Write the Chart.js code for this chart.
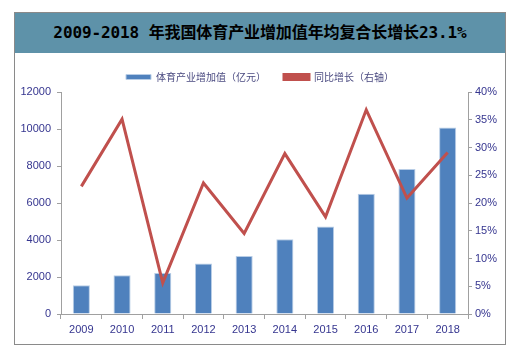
<!DOCTYPE html>
<html lang="zh">
<head>
<meta charset="UTF-8" />
<title>体育产业增加值</title>
<script src="https://cdn.jsdelivr.net/npm/chart.js"></script>
<style>
  body { margin: 0; background: #fff; }
  .frame {
    position: absolute; left: 14px; top: 12px; width: 490px; height: 331px;
    border: 1px solid #8a8a8a; background: #fff;
  }
  .title {
    height: 40px; background: #5e92a9; color: #000;
    font: bold 16px "DejaVu Sans Mono", "Noto Sans CJK SC", monospace;
    line-height: 40px; text-align: center; letter-spacing: -0.1px;
  }
  .box { position: absolute; left: 0; top: 41px; width: 490px; height: 290px; }
</style>
</head>
<body>
<div class="frame">
  <div class="title">2009-2018 年我国体育产业增加值年均复合长增长23.1%</div>
  <div class="box"><canvas id="myChart"></canvas></div>
</div>
<script>
const years = ["2009", "2010", "2011", "2012", "2013", "2014", "2015", "2016", "2017", "2018"];
const valueAdded = [1560, 2090, 2220, 2730, 3140, 4040, 4735, 6495, 7840, 10080];
const growth = [23.0, 35.1, 5.6, 23.6, 14.5, 28.9, 17.5, 36.8, 20.9, 29.1];
const leftTicks = [0, 2000, 4000, 6000, 8000, 10000, 12000];
const rightTicks = [0, 5, 10, 15, 20, 25, 30, 35, 40];

const tickColor = "#35358f";
const tickFont = { family: "'Liberation Sans Narrow', 'Liberation Sans', Arial", size: 11 };

const data = {
  labels: years,
  datasets: [
    {
      type: "bar",
      label: "体育产业增加值（亿元）",
      data: valueAdded,
      backgroundColor: "#4f81bd",
      borderColor: "#b8cde6",
      borderWidth: 1,
      categoryPercentage: 1,
      barPercentage: 0.42,
      yAxisID: "y",
      order: 2,
    },
    {
      type: "line",
      label: "同比增长（右轴）",
      data: growth,
      borderColor: "#c0504d",
      backgroundColor: "#c0504d",
      borderWidth: 3,
      pointRadius: 0,
      tension: 0,
      yAxisID: "y1",
      order: 1,
    },
  ],
};

const config = {
  data: data,
  options: {
    responsive: true,
    maintainAspectRatio: false,
    animation: false,
    layout: { padding: { top: 0, right: 0, bottom: 0, left: 0 } },
    plugins: {
      legend: {
        position: "top",
        labels: {
          boxWidth: 25,
          boxHeight: 5,
          padding: 18,
          color: "#4a4a80",
          font: { family: "'Noto Sans CJK SC'", size: 10 },
          sort: (a, b) => a.datasetIndex - b.datasetIndex,
        },
      },
      tooltip: { enabled: false },
    },
    scales: {
      x: {
        grid: { drawOnChartArea: false, drawTicks: true, tickLength: 5, color: "#a0a0a0", offset: true },
        border: { color: "#a0a0a0" },
        ticks: { color: tickColor, font: tickFont, padding: 4 },
        afterFit: (s) => { s.height = 30; },
      },
      y: {
        position: "left",
        min: 0,
        max: 12000,
        afterBuildTicks: (s) => { s.ticks = leftTicks.map((v) => ({ value: v })); },
        grid: { drawOnChartArea: false, drawTicks: true, tickLength: 4, color: "#a0a0a0" },
        border: { color: "#a0a0a0" },
        ticks: { color: tickColor, font: tickFont, padding: 6, callback: (v) => String(v) },
        afterFit: (s) => { s.width = 46; },
      },
      y1: {
        position: "right",
        min: 0,
        max: 40,
        afterBuildTicks: (s) => { s.ticks = rightTicks.map((v) => ({ value: v })); },
        grid: { drawOnChartArea: false, drawTicks: true, tickLength: 4, color: "#a0a0a0" },
        border: { color: "#a0a0a0" },
        ticks: { color: tickColor, font: tickFont, padding: 3, callback: (v) => v + "%" },
        afterFit: (s) => { s.width = 37; },
      },
    },
  },
};

const myChart = new Chart(document.getElementById("myChart"), config);
</script>
</body>
</html>
